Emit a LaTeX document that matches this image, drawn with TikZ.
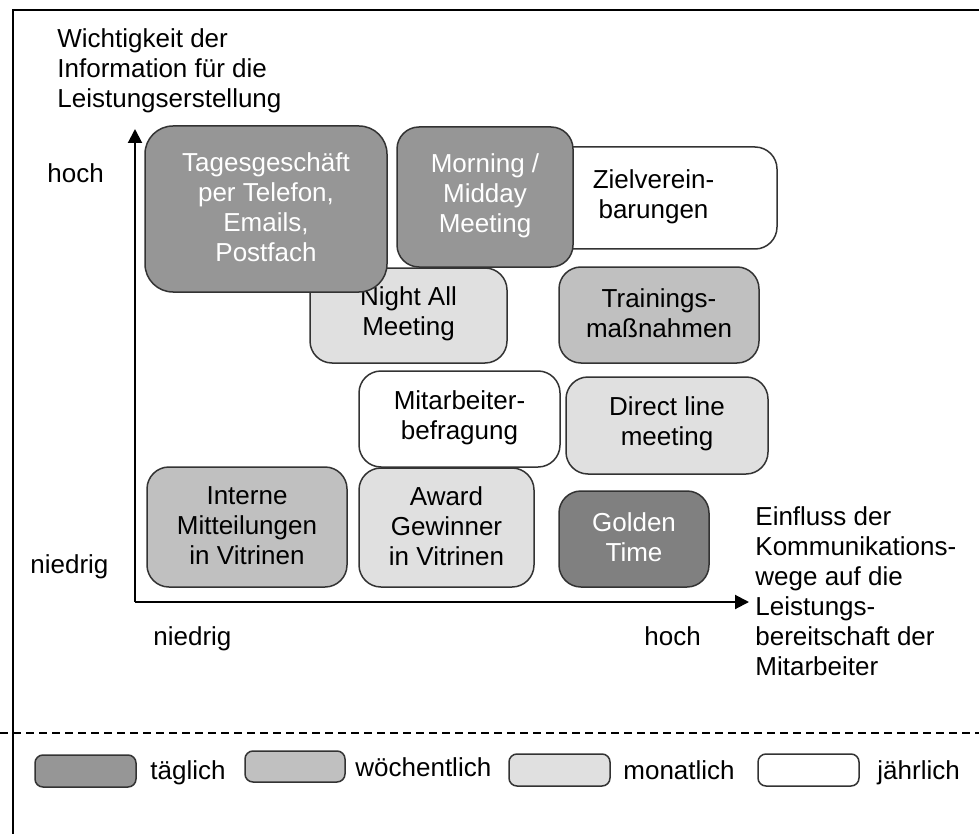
\documentclass[tikz,border=0pt]{standalone}
\usepackage{fontspec}
\setmainfont{Liberation Sans}
\usetikzlibrary{arrows.meta,fit}
\definecolor{daily}{HTML}{969696}
\definecolor{weekly}{HTML}{C0C0C0}
\definecolor{monthly}{HTML}{E0E0E0}
\definecolor{golden}{HTML}{808080}
\begin{document}
\begin{tikzpicture}[x=0.5pt,y=-0.5pt,
  font=\fontsize{13}{15}\selectfont,
  card/.style={draw=black!80, line width=0.75pt, rounded corners=11pt,
    inner sep=0pt, outer sep=0pt},
  darkcard/.style={card, fill=daily},
  weekcard/.style={card, fill=weekly},
  monthcard/.style={card, fill=monthly},
  yearcard/.style={card, fill=white},
  cardtext/.style={inner sep=0pt, align=center, yshift=0.75pt},
  lighttext/.style={cardtext, text=white},
  swatch/.style={draw=black!80, line width=0.75pt, rounded corners=4pt,
    inner sep=0pt, outer sep=0pt},
  lbl/.style={inner sep=0pt, align=left},
  axis/.style={line width=1pt, -{Triangle[length=7pt,width=7pt]}},
  frame/.style={line width=1pt}
]
\useasboundingbox (0,0) rectangle (979,834);

% outer frame and separator
\coordinate (frameR) at (979,10);
\coordinate (frameTL) at (13,10);
\coordinate (frameB) at (13,834);
\draw[frame] (frameR) -- (frameTL) -- (frameB);
\coordinate (sepL) at (0,733);
\coordinate (sepR) at (979,733);
\draw[frame, dash pattern=on 4pt off 2.5pt] (sepL) -- (sepR);

% axes
\coordinate (origin) at (135,602);
\coordinate (ytop) at (135,129);
\coordinate (xend) at (749,602);
\draw[axis] (origin) -- (ytop);
\draw[axis] (origin) -- (xend);

% axis labels
\node[lbl, anchor=north west] (ytitle) at (57,28)
  {Wichtigkeit der\\Information für die\\Leistungserstellung};
\node[lbl, anchor=base west] (yhigh) at (47,183) {hoch};
\node[lbl, anchor=base west] (ylow) at (30,573) {niedrig};
\node[lbl, anchor=base west] (xlow) at (153,645) {niedrig};
\node[lbl, anchor=base west] (xhigh) at (644,645) {hoch};
\node[lbl, anchor=north west] (xtitle) at (755,506)
  {Einfluss der\\Kommunikations-\\wege auf die\\Leistungs-\\bereitschaft der\\Mitarbeiter};

% communication channels (later ones overlap earlier ones)
\node[yearcard, fit={(530,147) (777,249)}] (ziel) {};
\node[cardtext] (zielT) at (ziel.center) {Zielverein-\\barungen};
\node[darkcard, fit={(397,127) (573,267)}] (morning) {};
\node[lighttext] (morningT) at (morning.center) {Morning /\\Midday\\Meeting};
\node[monthcard, fit={(310,268) (507,363)}] (night) {};
\node[cardtext] (nightT) at (night.center) {Night All\\Meeting};
\node[darkcard, rounded corners=14pt, fit={(145,126) (387,292)}] (tages) {};
\node[lighttext] (tagesT) at (tages.center)
  {Tagesgeschäft\\per Telefon,\\Emails,\\Postfach};
\node[weekcard, fit={(559,267) (759,363)}] (training) {};
\node[cardtext] (trainingT) at (training.center) {Trainings-\\maßnahmen};
\node[yearcard, fit={(359,371) (560,467)}] (befragung) {};
\node[cardtext] (befragungT) at (befragung.center) {Mitarbeiter-\\befragung};
\node[monthcard, fit={(566,377) (768,474)}] (direct) {};
\node[cardtext] (directT) at (direct.center) {Direct line\\meeting};
\node[weekcard, fit={(147,467) (347,587)}] (interne) {};
\node[cardtext] (interneT) at (interne.center) {Interne\\Mitteilungen\\in Vitrinen};
\node[monthcard, fit={(359,468) (534,587)}] (award) {};
\node[cardtext] (awardT) at (award.center) {Award\\Gewinner\\in Vitrinen};
\node[card, fill=golden, fit={(559,491) (709,587)}] (golden) {};
\node[lighttext] (goldenT) at (golden.center) {Golden\\Time};

% legend
\node[swatch, fill=daily, fit={(35,755) (136,787)}] (legDaily) {};
\node[lbl, anchor=base west] (txtDaily) at (150,779) {täglich};
\node[swatch, fill=weekly, fit={(245,751) (345,782)}] (legWeekly) {};
\node[lbl, anchor=base west] (txtWeekly) at (355,776) {wöchentlich};
\node[swatch, fill=monthly, fit={(509,754) (610,786)}] (legMonthly) {};
\node[lbl, anchor=base west] (txtMonthly) at (623,779) {monatlich};
\node[swatch, fill=white, fit={(758,754) (859,786)}] (legYearly) {};
\node[lbl, anchor=base west] (txtYearly) at (877,779) {jährlich};
\end{tikzpicture}
\end{document}
